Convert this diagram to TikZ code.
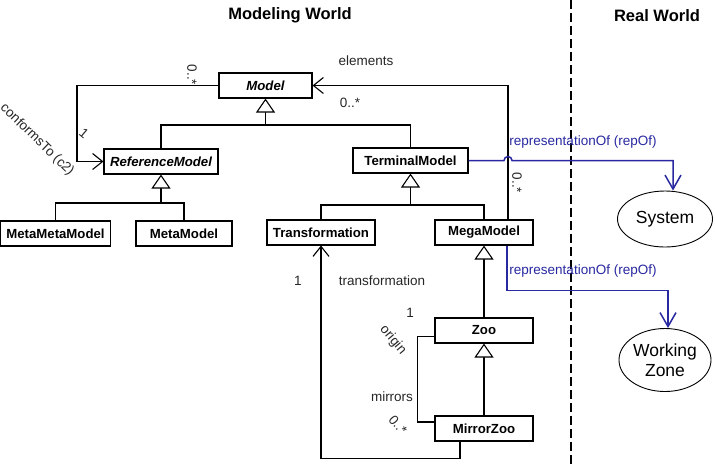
\documentclass[tikz,border=0pt]{standalone}
\usepackage{fontspec}
\setmainfont{Liberation Sans}
\usepackage{tikz}
\usetikzlibrary{arrows.meta,positioning,shapes.geometric}
\definecolor{repblue}{RGB}{40,40,160}

\begin{document}
\begin{tikzpicture}[
  x=1pt, y=-1pt,
  font=\fontsize{13.5}{15}\selectfont,
  cls/.style   ={draw, line width=1.1pt, fill=white, minimum height=25pt, inner sep=2pt, font=\fontsize{13.2}{15}\selectfont\bfseries},
  acls/.style  ={cls, font=\fontsize{13.2}{15}\selectfont\bfseries\itshape},
  world/.style ={font=\fontsize{16.5}{18}\selectfont\bfseries},
  thing/.style ={draw, ellipse, line width=0.9pt, align=center, inner sep=0pt, font=\fontsize{17.5}{20}\selectfont},
  lbl/.style   ={text=black!85, inner sep=1pt},
  replbl/.style={text=repblue, inner sep=1pt},
  conn/.style  ={draw, line width=1.1pt},
  gen/.style   ={conn, -{Triangle[length=14pt, width=19pt, fill=white]}},
  assoc/.style ={conn, -{Straight Barb[length=10pt, width=16pt]}},
  rep/.style   ={draw=repblue, line width=1.5pt, -{Straight Barb[length=14pt, width=16pt]}},
  divider/.style={line width=2.4pt, dash pattern=on 9pt off 4pt}
]
\useasboundingbox (0,0) rectangle (715,464);
\node[world] (mw) at (290,15) {Modeling World};
\node[world] (rw) at (657,16) {Real World};
\draw[divider] (571,0) -- (571,464);

\node[acls, minimum width=93pt]  (model) at (265.5,85.5) {Model};
\node[acls, minimum width=114pt] (refm)  at (161,161.5)  {ReferenceModel};
\node[cls,  minimum width=115pt] (term)  at (410.5,160.5) {TerminalModel};
\node[cls,  minimum width=110pt] (mmm)   at (55.5,233.5) {MetaMetaModel};
\node[cls,  minimum width=96pt]  (mm)    at (184,233.5)  {MetaModel};
\node[cls,  minimum width=108pt] (trans) at (321,232.5)  {Transformation};
\node[cls,  minimum width=98pt]  (mega)  at (484,232.5)  {MegaModel};
\node[cls,  minimum width=98pt]  (zoo)   at (484,330.5)  {Zoo};
\node[cls,  minimum width=98pt]  (mzoo)  at (484,428.5)  {MirrorZoo};
\node[thing, minimum width=95pt, minimum height=56pt] (sys) at (665,219) {System};
\node[thing, minimum width=92pt, minimum height=63pt] (wz)  at (665,360) {Working\\Zone};

\coordinate (mj) at (265.5,125);
\draw[gen] (mj) -- (model.south);
\draw[conn] (refm.north) |- (mj) -| (term.north);
\coordinate (rj) at (161,203);
\draw[gen] (rj) -- (refm.south);
\draw[conn] (mmm.north) |- (rj) -| (mm.north);
\coordinate (tj) at (410.5,205);
\draw[gen] (tj) -- (term.south);
\draw[conn] (trans.north) |- (tj) -| (mega.north);
\draw[gen] (zoo.north) -- (mega.south);
\draw[gen] (mzoo.north) -- (zoo.south);

\draw[assoc] (model.west) -- (77,85.5) |- (refm.west);
\draw[assoc] ([xshift=24pt]mega.north) |- (model.east);
\draw[assoc] ([xshift=-24pt]mzoo.south) -- ++(0,17) -| (trans.south);
\draw[conn] ([yshift=-6pt]zoo.west) -- ++(-17,0) |- ([yshift=6.5pt]mzoo.west);

\draw[rep] (term.east) -- (504,160.5) arc[start angle=180, end angle=0, radius=4pt] -| ([xshift=8pt]sys.north);
\draw[rep] ([xshift=23pt]mega.south) -- ++(0,45) -| ([xshift=3pt]wz.north);

\node[lbl, rotate=-90] (m0)  at (192,75)  {0..*};
\node[lbl, rotate=-40] (m1)  at (84,133)  {1};
\node[lbl, rotate=-44] (cto) at (37,140)  {conformsTo (c2)};
\node[lbl]             (el)  at (366,61)  {elements};
\node[lbl]             (e0)  at (350,103) {0..*};
\node[lbl, rotate=-90] (e1)  at (517,183) {0..*};
\node[replbl]          (rp1) at (583,142) {representationOf (repOf)};
\node[replbl]          (rp2) at (583,271) {representationOf (repOf)};
\node[lbl]             (t1)  at (298,281) {1};
\node[lbl]             (tl)  at (382,281) {transformation};
\node[lbl]             (o1)  at (410,313) {1};
\node[lbl, rotate=-50] (or)  at (393,340) {origin};
\node[lbl]             (mi)  at (392,397) {mirrors};
\node[lbl, rotate=-50] (mz)  at (398,425) {0..*};
\end{tikzpicture}
\end{document}
